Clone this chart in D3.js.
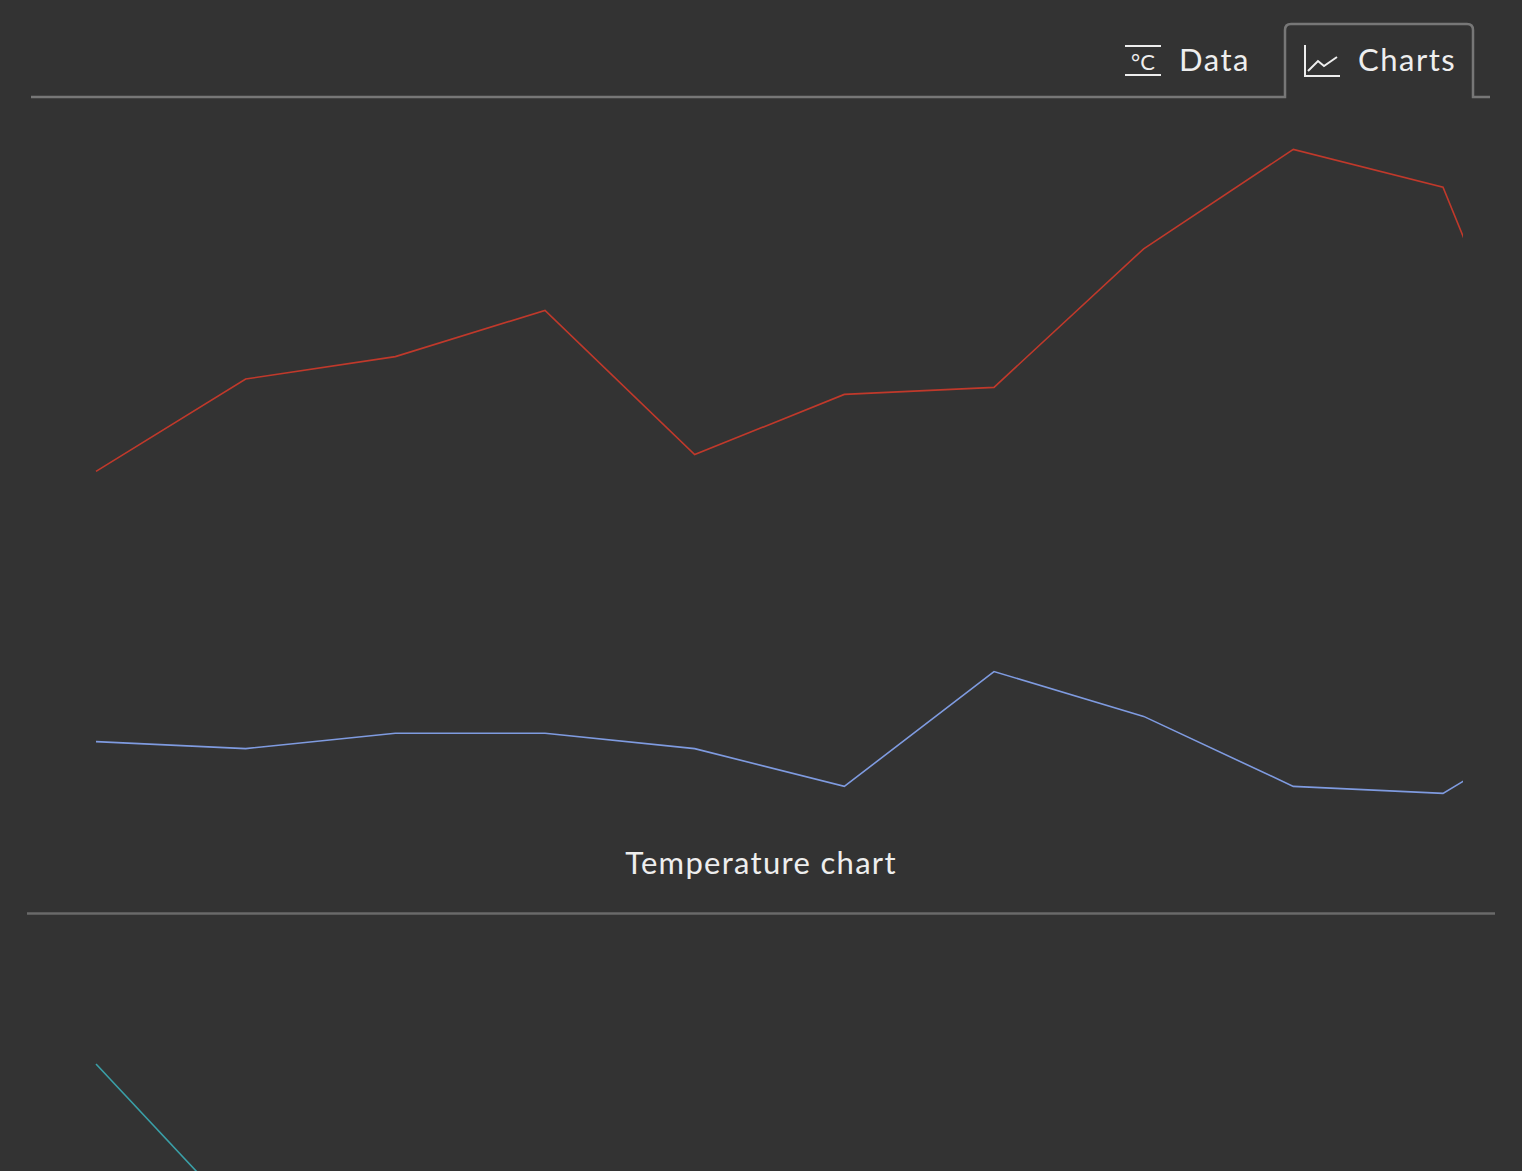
<!DOCTYPE html><html><head><meta charset="utf-8"><script src="https://cdn.jsdelivr.net/npm/d3@7"></script>
<style>body{margin:0;background:#333;overflow:hidden}svg{display:block}</style></head><body><svg id="c" width="1522" height="1171"></svg>
<script>
const days = [0,1,2,3,4,5,6,7,8,9,10];
const maxTemp = [14.9,21.5,23.1,26.4,16.1,20.4,20.9,30.8,37.9,35.2,9.0];
const minTemp = [-4.4,-4.9,-3.8,-3.8,-4.9,-7.6,0.6,-2.6,-7.6,-8.1,-1.7];
const rain = [84,44];
const svg = d3.select("#c");
const x = d3.scaleLinear().domain([0,9]).range([96,1443]);
const y = d3.scaleLinear().domain([-10,40]).range([820,120]);
const y2 = d3.scaleLinear().domain([0,100]).range([1400,1000]);
svg.append("defs").append("clipPath").attr("id","cl").append("rect").attr("x",0).attr("y",100).attr("width",1463).attr("height",800);
const g = svg.append("g").attr("clip-path","url(#cl)");
const line = d3.line().x((d,i)=>x(days[i])).y(d=>y(d));
g.append("path").attr("d",line(maxTemp)).attr("fill","none").attr("stroke","#c0392b").attr("stroke-width",1.6);
g.append("path").attr("d",line(minTemp)).attr("fill","none").attr("stroke","#7f9be0").attr("stroke-width",1.6);
svg.append("path").attr("d",d3.line().x((d,i)=>x(days[i])).y(d=>y2(d))(rain)).attr("fill","none").attr("stroke","#3aa0a8").attr("stroke-width",1.6);
svg.append("text").attr("x",761).attr("y",874).attr("text-anchor","middle").attr("fill","#eee").attr("font-family","Lato").attr("font-size",31).attr("letter-spacing",1.3).text("Temperature chart");
svg.append("line").attr("x1",27).attr("x2",1495).attr("y1",913.5).attr("y2",913.5).attr("stroke","#6a6a6a").attr("stroke-width",2.5);
// tabs
svg.append("path").attr("d","M31,97 H1285 V30 Q1285,24 1291,24 H1467 Q1473,24 1473,30 V97 H1490").attr("fill","none").attr("stroke","#777").attr("stroke-width",2.5);
const tc="#eee";
svg.append("text").attr("x",1179).attr("y",71).attr("fill",tc).attr("font-family","Lato").attr("font-size",31).attr("letter-spacing",1.5).text("Data");
svg.append("text").attr("x",1358).attr("y",71).attr("fill",tc).attr("font-family","Lato").attr("font-size",31).attr("letter-spacing",1.5).text("Charts");
svg.append("line").attr("x1",1125).attr("x2",1161).attr("y1",46).attr("y2",46).attr("stroke",tc).attr("stroke-width",2);
svg.append("line").attr("x1",1125).attr("x2",1161).attr("y1",75).attr("y2",75).attr("stroke",tc).attr("stroke-width",2);
svg.append("text").attr("x",1143).attr("y",70).attr("text-anchor","middle").attr("fill",tc).attr("font-family","Lato").attr("font-size",22).text("°C");
svg.append("path").attr("d","M1305,45 V76 H1340 M1308,71 L1318,61 L1324,66 L1337,57").attr("fill","none").attr("stroke",tc).attr("stroke-width",2);
</script></body></html>
